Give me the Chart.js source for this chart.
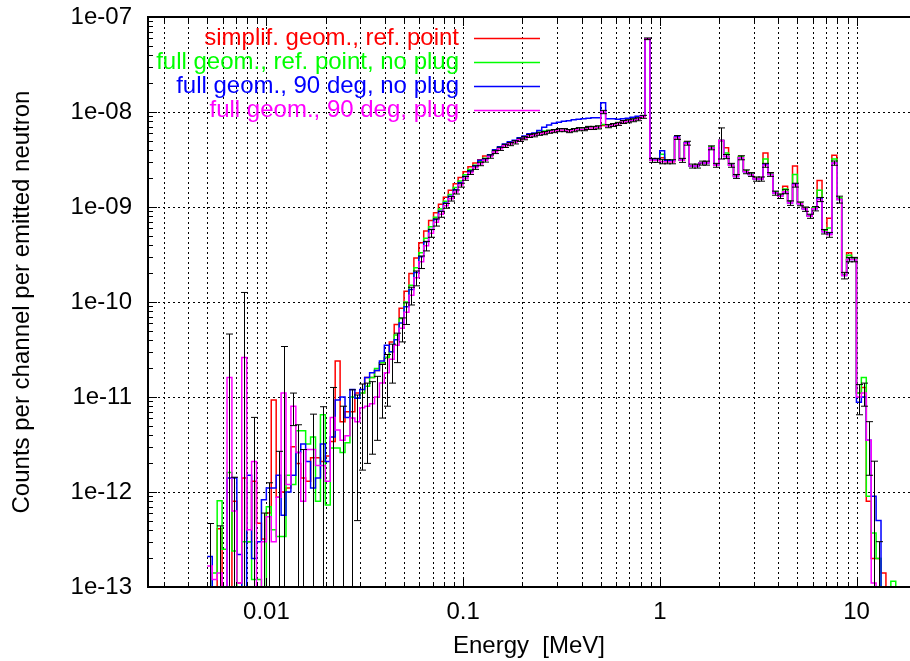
<!DOCTYPE html>
<html>
<head>
<meta charset="utf-8">
<script src="https://cdn.jsdelivr.net/npm/chart.js@4.4.1/dist/chart.umd.min.js"></script>
<style>
  html, body { margin: 0; padding: 0; background: #fff; overflow: hidden; }
</style>
</head>
<body>
<canvas id="grafico" width="910" height="661"></canvas>
<script>
// centros dos canais de energia (MeV)
const energia = [
  0.005153, 0.005458, 0.005782, 0.006125, 0.006488, 0.006872, 0.007279, 0.007711, 0.008168, 0.008652,
  0.009164, 0.009708, 0.01028, 0.01089, 0.01154, 0.01222, 0.01294, 0.01371, 0.01452, 0.01538,
  0.01629, 0.01726, 0.01828, 0.01937, 0.02051, 0.02173, 0.02302, 0.02438, 0.02583, 0.02736,
  0.02898, 0.03069, 0.03251, 0.03444, 0.03648, 0.03864, 0.04093, 0.04336, 0.04593, 0.04865,
  0.05153, 0.05458, 0.05782, 0.06125, 0.06488, 0.06872, 0.07279, 0.07711, 0.08168, 0.08652,
  0.09164, 0.09708, 0.1028, 0.1089, 0.1154, 0.1222, 0.1294, 0.1371, 0.1452, 0.1538,
  0.1629, 0.1726, 0.1828, 0.1937, 0.2051, 0.2173, 0.2302, 0.2438, 0.2583, 0.2736,
  0.2898, 0.3069, 0.3251, 0.3444, 0.3648, 0.3864, 0.4093, 0.4336, 0.4593, 0.4865,
  0.5153, 0.5458, 0.5782, 0.6125, 0.6488, 0.6872, 0.7279, 0.7711, 0.8168, 0.8652,
  0.9164, 0.9708, 1.028, 1.089, 1.154, 1.222, 1.294, 1.371, 1.452, 1.538,
  1.629, 1.726, 1.828, 1.937, 2.051, 2.173, 2.302, 2.438, 2.583, 2.736,
  2.898, 3.069, 3.251, 3.444, 3.648, 3.864, 4.093, 4.336, 4.593, 4.865,
  5.153, 5.458, 5.782, 6.125, 6.488, 6.872, 7.279, 7.711, 8.168, 8.652,
  9.164, 9.708, 10.28, 10.89, 11.54, 12.22, 12.94, 13.71, 14.52, 15.38,
  16.29
];

// contagens por canal (0 = canal vazio)
const simplifRefPoint = [
  0, 0, 4.1e-13, 0, 0, 8e-13, 1.1e-13, 1.4e-12, 3e-13, 1.3e-12,
  4.7e-13, 3.2e-13, 6e-13, 9.3e-12, 8.8e-13, 1e-12, 1.1e-12, 3e-12, 2e-12, 1.4e-12,
  1.3e-12, 2.3e-12, 2.3e-12, 2.1e-12, 2.4e-12, 3.4e-12, 2.4e-11, 5.5e-12, 7e-12, 7e-12,
  1.1e-11, 1.1e-11, 1.6e-11, 1.6e-11, 1.9e-11, 2.3e-11, 2.6e-11, 3.8e-11, 5.8e-11, 8.6e-11,
  1.3e-10, 2.0e-10, 2.9e-10, 4.2e-10, 5.6e-10, 7.2e-10, 8.7e-10, 1.07e-9, 1.27e-9, 1.5e-9,
  1.76e-9, 2.05e-9, 2.35e-9, 2.65e-9, 2.9e-9, 3.15e-9, 3.45e-9, 3.5e-9, 3.85e-9, 4.15e-9,
  4.45e-9, 4.65e-9, 4.85e-9, 5.15e-9, 5.35e-9, 5.65e-9, 5.75e-9, 5.95e-9, 6.05e-9, 6.25e-9,
  6.35e-9, 6.5e-9, 6.5e-9, 6.35e-9, 6.5e-9, 6.65e-9, 6.65e-9, 6.85e-9, 6.85e-9, 6.95e-9,
  7.2e-9, 7.15e-9, 7.35e-9, 7.55e-9, 7.9e-9, 8.05e-9, 8.25e-9, 8.45e-9, 8.95e-9, 5.9e-8,
  3.1e-9, 3.1e-9, 3.3e-9, 3.0e-9, 3.0e-9, 5.4e-9, 3.1e-9, 4.8e-9, 2.7e-9, 2.75e-9,
  2.9e-9, 2.95e-9, 4.2e-9, 2.8e-9, 5.0e-9, 4.2e-9, 2.8e-9, 2.15e-9, 3.4e-9, 2.4e-9,
  2.25e-9, 2.0e-9, 2.0e-9, 3.7e-9, 2.3e-9, 1.45e-9, 1.35e-9, 1.65e-9, 1.15e-9, 2.7e-9,
  1.1e-9, 9.7e-10, 8.2e-10, 9.8e-10, 1.9e-9, 5.7e-10, 7.6e-10, 3.5e-9, 1.25e-9, 1.95e-10,
  3.3e-10, 2.9e-10, 1.1e-11, 1.26e-11, 8e-13, 2e-13, 2e-13, 1.4e-13, 0, 0,
  0
];

const fullRefNoPlug = [
  0, 1.4e-13, 8.1e-13, 2.5e-13, 1.6e-12, 2.4e-13, 0, 3e-13, 3e-13, 1.2e-13,
  1.2e-13, 0, 7e-13, 4e-13, 3.4e-13, 3.4e-13, 1.5e-12, 1.2e-12, 4.4e-12, 4.4e-12,
  3.2e-12, 3.8e-12, 8e-13, 6.5e-12, 7.3e-13, 2.9e-12, 2.9e-12, 2.6e-12, 3.3e-12, 1e-11,
  9.7e-12, 1.1e-11, 1.3e-11, 1.6e-11, 2e-11, 2.3e-11, 2.6e-11, 3.0e-11, 4.5e-11, 6.7e-11,
  1.0e-10, 1.5e-10, 2.3e-10, 3.3e-10, 4.7e-10, 6.2e-10, 7.8e-10, 9.5e-10, 1.15e-9, 1.35e-9,
  1.6e-9, 1.88e-9, 2.18e-9, 2.48e-9, 2.75e-9, 3.0e-9, 3.25e-9, 3.5e-9, 3.9e-9, 4.2e-9,
  4.5e-9, 4.75e-9, 4.95e-9, 5.25e-9, 5.45e-9, 5.75e-9, 5.9e-9, 6.1e-9, 6.3e-9, 6.4e-9,
  6.45e-9, 6.6e-9, 6.6e-9, 6.45e-9, 6.6e-9, 6.75e-9, 6.75e-9, 6.95e-9, 6.95e-9, 7.05e-9,
  7.4e-9, 7.25e-9, 7.45e-9, 7.65e-9, 8.0e-9, 8.15e-9, 8.35e-9, 8.55e-9, 9.0e-9, 5.9e-8,
  3.1e-9, 3.1e-9, 3.6e-9, 3.0e-9, 3.05e-9, 5.4e-9, 3.1e-9, 4.8e-9, 2.7e-9, 2.75e-9,
  2.9e-9, 2.95e-9, 4.3e-9, 2.8e-9, 5.0e-9, 3.7e-9, 2.8e-9, 2.15e-9, 3.4e-9, 2.4e-9,
  2.25e-9, 2.0e-9, 2.0e-9, 3.2e-9, 2.25e-9, 1.45e-9, 1.35e-9, 1.55e-9, 1.15e-9, 2.2e-9,
  1.1e-9, 9.7e-10, 8.2e-10, 9.8e-10, 1.5e-9, 5.7e-10, 6e-10, 3.2e-9, 1.25e-9, 1.95e-10,
  3.1e-10, 2.9e-10, 1.1e-11, 1.6e-11, 9e-13, 3.7e-13, 2e-13, 0, 0, 1.15e-13,
  0
];

const full90NoPlug = [
  2.1e-13, 0, 0, 0, 1.4e-12, 1.4e-12, 2.2e-13, 0, 1.5e-12, 2e-13,
  3e-13, 8.3e-13, 1.1e-12, 1.1e-12, 1.5e-12, 5.7e-13, 1e-12, 1.5e-12, 2.6e-12, 3.2e-12,
  2.1e-12, 1.1e-12, 1.4e-12, 3.2e-12, 2.1e-12, 3.8e-12, 9.3e-12, 1e-11, 6.1e-12, 1.2e-11,
  9.7e-12, 1.2e-11, 1.6e-11, 1.8e-11, 1.9e-11, 2.4e-11, 3.5e-11, 3.0e-11, 4.0e-11, 6.0e-11,
  8.9e-11, 1.35e-10, 2.05e-10, 3.0e-10, 4.3e-10, 5.8e-10, 7.4e-10, 9.0e-10, 1.1e-9, 1.3e-9,
  1.52e-9, 1.8e-9, 2.1e-9, 2.4e-9, 2.7e-9, 3.1e-9, 3.2e-9, 3.55e-9, 4.0e-9, 4.3e-9,
  4.6e-9, 4.85e-9, 5.05e-9, 5.35e-9, 5.6e-9, 5.9e-9, 6.0e-9, 6.4e-9, 6.9e-9, 7.3e-9,
  7.6e-9, 7.8e-9, 8.0e-9, 8.1e-9, 8.3e-9, 8.4e-9, 8.5e-9, 8.6e-9, 8.7e-9, 8.7e-9,
  1.25e-8, 8.5e-9, 8.5e-9, 8.4e-9, 8.5e-9, 8.6e-9, 8.8e-9, 9.0e-9, 9.1e-9, 5.9e-8,
  3.2e-9, 3.2e-9, 3.9e-9, 3.1e-9, 3.05e-9, 5.5e-9, 3.1e-9, 4.75e-9, 2.7e-9, 2.7e-9,
  2.9e-9, 2.9e-9, 4.2e-9, 2.75e-9, 5.0e-9, 3.4e-9, 2.75e-9, 2.1e-9, 3.3e-9, 2.35e-9,
  2.2e-9, 1.97e-9, 1.97e-9, 2.8e-9, 2.2e-9, 1.4e-9, 1.3e-9, 1.45e-9, 1.1e-9, 1.75e-9,
  1.08e-9, 9.5e-10, 8.0e-10, 9.6e-10, 1.25e-9, 5.5e-10, 5.2e-10, 2.9e-9, 1.2e-9, 1.9e-10,
  2.8e-10, 2.8e-10, 8.8e-12, 1e-11, 3.5e-12, 9e-13, 5e-13, 0, 0, 0,
  0
];

const full90Plug = [
  1.66e-13, 1.2e-13, 1.4e-13, 0, 1.6e-11, 6.3e-13, 1.1e-13, 2.6e-11, 4e-13, 2.1e-12,
  0, 3e-13, 5.5e-13, 3e-13, 8.8e-13, 1.1e-11, 1.2e-12, 8e-12, 2.6e-12, 8e-13,
  2.8e-12, 2.8e-12, 1.9e-12, 1.9e-12, 1.3e-12, 6.1e-12, 4.5e-12, 3.5e-12, 3.9e-12, 6e-12,
  5.5e-12, 7.7e-12, 8e-12, 8.5e-12, 1e-11, 1.4e-11, 1.8e-11, 2.5e-11, 3.5e-11, 5.3e-11,
  7.8e-11, 1.18e-10, 1.8e-10, 2.65e-10, 3.9e-10, 5.3e-10, 6.9e-10, 8.4e-10, 1.03e-9, 1.22e-9,
  1.44e-9, 1.7e-9, 2.0e-9, 2.3e-9, 2.6e-9, 2.84e-9, 3.1e-9, 3.4e-9, 3.8e-9, 4.1e-9,
  4.4e-9, 4.6e-9, 4.8e-9, 5.1e-9, 5.3e-9, 5.6e-9, 5.7e-9, 5.9e-9, 6.0e-9, 6.2e-9,
  6.3e-9, 6.45e-9, 6.45e-9, 6.3e-9, 6.45e-9, 6.6e-9, 6.6e-9, 6.8e-9, 6.8e-9, 6.9e-9,
  1.0e-8, 7.1e-9, 7.3e-9, 7.5e-9, 7.85e-9, 8.0e-9, 8.2e-9, 8.4e-9, 8.9e-9, 5.9e-8,
  3.1e-9, 3.1e-9, 3.0e-9, 3.0e-9, 3.0e-9, 5.4e-9, 3.1e-9, 4.7e-9, 2.7e-9, 2.7e-9,
  2.9e-9, 2.9e-9, 4.2e-9, 2.75e-9, 5.0e-9, 3.4e-9, 2.75e-9, 2.1e-9, 3.3e-9, 2.35e-9,
  2.2e-9, 1.97e-9, 1.97e-9, 2.75e-9, 2.2e-9, 1.4e-9, 1.3e-9, 1.45e-9, 1.1e-9, 1.7e-9,
  1.08e-9, 9.5e-10, 8.0e-10, 9.6e-10, 1.2e-9, 5.5e-10, 5.1e-10, 2.9e-9, 1.2e-9, 1.9e-10,
  2.8e-10, 2.8e-10, 1.0e-11, 1.1e-11, 3.5e-12, 1.1e-13, 0, 0, 0, 0,
  0
];

// incerteza absoluta (1 sigma) da serie com plug
const sigmaPlug = [
  3e-13, 0, 3e-13, 0, 3e-11, 8e-13, 0, 1e-10, 0, 4e-12,
  0, 3e-13, 7e-13, 0, 1.8e-12, 2.3e-11, 0, 3e-12, 2.5e-12, 2e-12,
  0, 3.8e-12, 0, 6e-12, 0, 6.5e-12, 0, 4.5e-12, 0, 5.9e-12,
  5e-12, 6e-12, 6e-12, 6e-12, 6.5e-12, 8e-12, 1e-11, 1.1e-11, 1.2e-11, 1.5e-11,
  2e-11, 2.5e-11, 3.2e-11, 4e-11, 4.5e-11, 5e-11, 6e-11, 6e-11, 6e-11, 6.5e-11,
  7e-11, 8e-11, 9e-11, 1e-10, 1.1e-10, 1.2e-10, 1.3e-10, 1.4e-10, 1.5e-10, 1.6e-10,
  1.7e-10, 1.8e-10, 1.9e-10, 2e-10, 2e-10, 2.1e-10, 2.2e-10, 2.2e-10, 2.3e-10, 2.3e-10,
  2.4e-10, 2.4e-10, 2.4e-10, 2.4e-10, 2.5e-10, 2.5e-10, 2.5e-10, 2.6e-10, 2.6e-10, 2.6e-10,
  4e-10, 2.7e-10, 2.7e-10, 2.8e-10, 2.9e-10, 3e-10, 3e-10, 3.1e-10, 3.2e-10, 1.2e-9,
  1.5e-10, 1.5e-10, 1.5e-10, 1.5e-10, 1.5e-10, 2.5e-10, 1.5e-10, 2.2e-10, 1.3e-10, 1.3e-10,
  1.4e-10, 1.4e-10, 2e-10, 1.3e-10, 1.8e-9, 1.7e-10, 1.3e-10, 1e-10, 1.6e-10, 1.1e-10,
  1e-10, 1e-10, 1e-10, 1.3e-10, 1e-10, 7e-11, 7e-11, 7e-11, 6e-11, 8e-11,
  5e-11, 5e-11, 4e-11, 5e-11, 6e-11, 3e-11, 3e-11, 1.5e-10, 1e-10, 1.5e-11,
  1.5e-11, 1.5e-11, 3.5e-12, 3e-12, 2e-12, 2e-12, 3e-13, 0, 0, 0,
  0
];

const nomesSeries = [
  'simplif. geom., ref. point',
  'full geom., ref. point, no plug',
  'full geom., 90 deg, no plug',
  'full geom., 90 deg, plug'
];
const coresSeries = ['#ff0000', '#00ff00', '#0000ff', '#ff00ff'];

const xTickValores = [0.01, 0.1, 1, 10];
const xTickRotulos = ['0.01', '0.1', '1', '10'];
const yTickValores = [1e-13, 1e-12, 1e-11, 1e-10, 1e-9, 1e-8, 1e-7];
const yTickRotulos = ['1e-13', '1e-12', '1e-11', '1e-10', '1e-09', '1e-08', '1e-07'];

const FUNDO = 1e-16; // canal vazio: a linha desce para fora do eixo
const X_MIN = 0.0025, X_MAX = 18.7, Y_MIN = 1e-13, Y_MAX = 1e-7;
const fonte = { family: "'Liberation Sans', Arial, sans-serif", size: 24 };

function rotulo(valores, rotulos, v) {
  for (let i = 0; i < valores.length; i++) {
    if (Math.abs(Math.log10(v) - Math.log10(valores[i])) < 1e-6) return rotulos[i];
  }
  return '';
}

// todos os valores k*10^n dentro do intervalo (marcas menores)
function marcasLog(min, max) {
  const lista = [];
  for (let d = Math.floor(Math.log10(min)); d <= Math.ceil(Math.log10(max)); d++) {
    for (let k = 1; k <= 9; k++) {
      const v = k * Math.pow(10, d);
      if (v >= min * 0.9999 && v <= max * 1.0001) lista.push(v);
    }
  }
  return lista;
}

// bordas dos canais no meio (geometrico) entre centros, como histeps do gnuplot
function pontosHisteps(valores) {
  const n = energia.length;
  const bordas = [energia[0] / Math.sqrt(energia[1] / energia[0])];
  for (let i = 1; i < n; i++) bordas.push(Math.sqrt(energia[i - 1] * energia[i]));
  bordas.push(energia[n - 1] * Math.sqrt(energia[n - 1] / energia[n - 2]));
  const pontos = valores.map((v, i) => ({ x: bordas[i], y: v > 0 ? v : FUNDO }));
  pontos.push({ x: bordas[n], y: valores[n - 1] > 0 ? valores[n - 1] : FUNDO });
  return pontos;
}

function linha(ctx, x1, y1, x2, y2) {
  ctx.beginPath();
  ctx.moveTo(x1, y1);
  ctx.lineTo(x2, y2);
  ctx.stroke();
}

const molduraGnuplot = {
  id: 'molduraGnuplot',
  beforeDatasetsDraw(chart) {
    const { ctx, chartArea: a, scales: { x, y } } = chart;
    ctx.save();
    ctx.strokeStyle = '#000';
    ctx.lineWidth = 1;
    ctx.setLineDash([2, 3]);
    marcasLog(X_MIN, X_MAX).forEach(v => {
      const px = Math.round(x.getPixelForValue(v)) + 0.5;
      linha(ctx, px, a.top, px, a.bottom);
    });
    yTickValores.forEach(v => {
      const py = Math.round(y.getPixelForValue(v)) + 0.5;
      linha(ctx, a.left, py, a.right, py);
    });
    ctx.restore();
  },
  afterDatasetsDraw(chart) {
    const { ctx, chartArea: a, scales: { x, y } } = chart;
    ctx.save();

    // barras de erro
    ctx.save();
    ctx.beginPath();
    ctx.rect(a.left, a.top, a.right - a.left, a.bottom - a.top);
    ctx.clip();
    ctx.strokeStyle = '#000';
    ctx.lineWidth = 1;
    for (let i = 0; i < energia.length; i++) {
      const s = sigmaPlug[i];
      if (!s) continue;
      const v = full90Plug[i] > 0 ? full90Plug[i] : 0;
      const baixo = v - s > 0 ? v - s : FUNDO;
      const px = Math.round(x.getPixelForValue(energia[i])) + 0.5;
      const pyAlto = y.getPixelForValue(v + s);
      const pyBaixo = y.getPixelForValue(baixo);
      linha(ctx, px, pyAlto, px, pyBaixo);
      linha(ctx, px - 3.5, pyAlto, px + 3.5, pyAlto);
      linha(ctx, px - 3.5, pyBaixo, px + 3.5, pyBaixo);
    }
    ctx.restore();

    // marcas para dentro
    ctx.strokeStyle = '#000';
    ctx.lineWidth = 1;
    marcasLog(X_MIN, X_MAX).forEach(v => {
      const px = Math.round(x.getPixelForValue(v)) + 0.5;
      const tam = rotulo(xTickValores, xTickRotulos, v) ? 9 : 5;
      linha(ctx, px, a.bottom, px, a.bottom - tam);
      linha(ctx, px, a.top, px, a.top + tam);
    });
    marcasLog(Y_MIN, Y_MAX).forEach(v => {
      const py = Math.round(y.getPixelForValue(v)) + 0.5;
      const tam = rotulo(yTickValores, yTickRotulos, v) ? 9 : 5;
      linha(ctx, a.left, py, a.left + tam, py);
    });

    // moldura
    ctx.lineWidth = 2;
    ctx.beginPath();
    ctx.moveTo(a.right, a.top);
    ctx.lineTo(a.left, a.top);
    ctx.lineTo(a.left, a.bottom);
    ctx.lineTo(a.right, a.bottom);
    ctx.stroke();

    // legenda: texto alinhado a direita, amostra da linha a seguir
    ctx.font = '24px "Liberation Sans", Arial, sans-serif';
    ctx.textAlign = 'right';
    ctx.textBaseline = 'middle';
    nomesSeries.forEach((nome, i) => {
      const yy = 38 + i * 24;
      ctx.fillStyle = coresSeries[i];
      ctx.fillText(nome, 459, yy);
      ctx.strokeStyle = coresSeries[i];
      ctx.lineWidth = 1.5;
      linha(ctx, 474, yy + 0.5, 540, yy + 0.5);
    });
    ctx.restore();
  }
};

const seriesValores = [simplifRefPoint, fullRefNoPlug, full90NoPlug, full90Plug];

const ctx = document.getElementById('grafico').getContext('2d');
const grafico = new Chart(ctx, {
  type: 'line',
  data: {
    datasets: seriesValores.map((valores, i) => ({
      label: nomesSeries[i],
      data: pontosHisteps(valores),
      borderColor: coresSeries[i],
      borderWidth: 1.5,
      pointRadius: 0,
      fill: false,
      stepped: true,
      order: 4 - i
    }))
  },
  options: {
    responsive: false,
    animation: false,
    events: [],
    layout: { padding: { top: 17, right: 0, bottom: 0, left: 0 } },
    plugins: {
      legend: { display: false },
      tooltip: { enabled: false }
    },
    scales: {
      x: {
        type: 'logarithmic',
        min: X_MIN,
        max: X_MAX,
        afterBuildTicks: (scale) => { scale.ticks = xTickValores.map(v => ({ value: v })); },
        afterFit: (scale) => { scale.height = 74; },
        grid: { display: false },
        border: { display: false },
        ticks: {
          autoSkip: false,
          maxRotation: 0,
          minRotation: 0,
          padding: 3,
          color: '#000',
          font: fonte,
          callback: (v) => rotulo(xTickValores, xTickRotulos, v)
        },
        title: {
          display: true,
          text: 'Energy  [MeV]',
          color: '#000',
          font: fonte,
          padding: { top: 0, bottom: 0 }
        }
      },
      y: {
        type: 'logarithmic',
        min: Y_MIN,
        max: Y_MAX,
        afterBuildTicks: (scale) => { scale.ticks = yTickValores.map(v => ({ value: v })); },
        afterFit: (scale) => { scale.width = 148; },
        grid: { display: false },
        border: { display: false },
        ticks: {
          padding: 8,
          color: '#000',
          font: { family: fonte.family, size: 24, lineHeight: 0.6 },
          callback: (v) => rotulo(yTickValores, yTickRotulos, v)
        },
        title: {
          display: true,
          text: 'Counts per channel per emitted neutron',
          color: '#000',
          font: fonte,
          padding: { top: 8, bottom: 0 }
        }
      }
    }
  },
  plugins: [molduraGnuplot]
});
</script>
</body>
</html>
